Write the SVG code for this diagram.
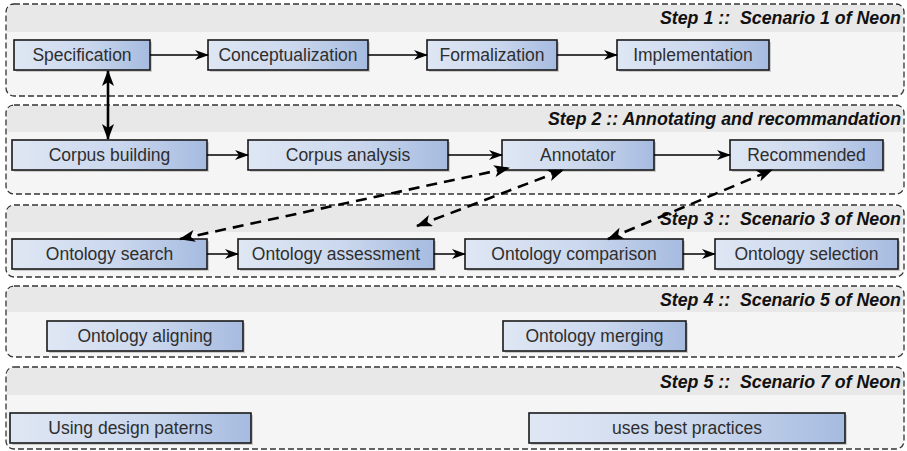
<svg xmlns="http://www.w3.org/2000/svg" width="907" height="451" viewBox="0 0 907 451">
<style>
.lane{fill:#f5f5f5;stroke:#333;stroke-width:1.3;stroke-dasharray:6 3}
.hdr{fill:#e8e8e8}
.title{font-family:"Liberation Sans",Arial,sans-serif;font-size:17.8px;font-weight:bold;font-style:italic;fill:#111;text-anchor:end;white-space:pre}
.box{fill:url(#ng);stroke:#1a1a1a;stroke-width:1.6}
.sh{fill:#9a9a9a;opacity:.45}
.lbl{font-family:"Liberation Sans",Arial,sans-serif;font-size:17.5px;fill:#2e2e2e;text-anchor:middle}
.c{fill:none;stroke:#000;stroke-width:1.5;marker-end:url(#ah)}
.d{fill:none;stroke:#000;stroke-width:2.6;stroke-dasharray:11 7;marker-start:url(#ah2);marker-end:url(#ah2)}
.v{fill:none;stroke:#000;stroke-width:2.6;marker-start:url(#ah2);marker-end:url(#ah2)}
</style>
<defs>
<linearGradient id="ng" x1="0" y1="0" x2="1" y2="0">
<stop offset="0" stop-color="#dfe7f4"/>
<stop offset="0.55" stop-color="#cad7ed"/>
<stop offset="1" stop-color="#a6bbe0"/>
</linearGradient>
<marker id="ah" viewBox="0 0 14 10" refX="13" refY="5" markerWidth="14" markerHeight="10" markerUnits="userSpaceOnUse" orient="auto-start-reverse">
<path d="M0,0 L14,5 L0,10 L4,5 Z" fill="#000"/>
</marker>
<marker id="ah2" viewBox="0 0 16 12" refX="15" refY="6" markerWidth="16" markerHeight="12" markerUnits="userSpaceOnUse" orient="auto-start-reverse">
<path d="M0,0 L16,6 L0,12 L4,6 Z" fill="#000"/>
</marker>
</defs>

<g id="lane1">
<rect class="lane" x="6" y="4" width="898" height="92" rx="8"/>
<path class="hdr" d="M7,32 V12 Q7,5 14,5 H896 Q903,5 903,12 V32 Z"/>
<text class="title" x="901" y="24" xml:space="preserve">Step 1 ::  Scenario 1 of Neon</text>
</g>
<g id="lane2">
<rect class="lane" x="6" y="105" width="898" height="89" rx="8"/>
<path class="hdr" d="M7,132 V113 Q7,106 14,106 H896 Q903,106 903,113 V132 Z"/>
<text class="title" x="901" y="125" xml:space="preserve">Step 2 :: Annotating and recommandation</text>
</g>
<g id="lane3">
<rect class="lane" x="6" y="205" width="898" height="72" rx="8"/>
<path class="hdr" d="M7,232 V213 Q7,206 14,206 H896 Q903,206 903,213 V232 Z"/>
<text class="title" x="901" y="225" xml:space="preserve">Step 3 ::  Scenario 3 of Neon</text>
</g>
<g id="lane4">
<rect class="lane" x="6" y="286" width="898" height="71" rx="8"/>
<path class="hdr" d="M7,312 V294 Q7,287 14,287 H896 Q903,287 903,294 V312 Z"/>
<text class="title" x="901" y="306" xml:space="preserve">Step 4 ::  Scenario 5 of Neon</text>
</g>
<g id="lane5">
<rect class="lane" x="6" y="367" width="898" height="82" rx="8"/>
<path class="hdr" d="M7,395 V375 Q7,368 14,368 H896 Q903,368 903,375 V395 Z"/>
<text class="title" x="901" y="388" xml:space="preserve">Step 5 ::  Scenario 7 of Neon</text>
</g>

<g id="n-specification"><rect class="sh" x="16" y="42" width="136" height="30"/><rect class="box" x="14" y="40" width="136" height="30"/><text class="lbl" x="82" y="61">Specification</text></g>
<g id="n-conceptualization"><rect class="sh" x="210" y="42" width="160" height="30"/><rect class="box" x="208" y="40" width="160" height="30"/><text class="lbl" x="288" y="61">Conceptualization</text></g>
<g id="n-formalization"><rect class="sh" x="429" y="42" width="130" height="30"/><rect class="box" x="427" y="40" width="130" height="30"/><text class="lbl" x="492" y="61">Formalization</text></g>
<g id="n-implementation"><rect class="sh" x="619" y="42" width="152" height="30"/><rect class="box" x="617" y="40" width="152" height="30"/><text class="lbl" x="693" y="61">Implementation</text></g>

<g id="n-corpus-building"><rect class="sh" x="14" y="142" width="195" height="30"/><rect class="box" x="12" y="140" width="195" height="30"/><text class="lbl" x="109.5" y="161">Corpus building</text></g>
<g id="n-corpus-analysis"><rect class="sh" x="250" y="142" width="200" height="30"/><rect class="box" x="248" y="140" width="200" height="30"/><text class="lbl" x="348" y="161">Corpus analysis</text></g>
<g id="n-annotator"><rect class="sh" x="504" y="142" width="152" height="30"/><rect class="box" x="502" y="140" width="152" height="30"/><text class="lbl" x="578" y="161">Annotator</text></g>
<g id="n-recommended"><rect class="sh" x="732" y="142" width="153" height="30"/><rect class="box" x="730" y="140" width="153" height="30"/><text class="lbl" x="806.5" y="161">Recommended</text></g>

<g id="n-ontology-search"><rect class="sh" x="14" y="241" width="195" height="30"/><rect class="box" x="12" y="239" width="195" height="30"/><text class="lbl" x="109.5" y="260">Ontology search</text></g>
<g id="n-ontology-assessment"><rect class="sh" x="240" y="241" width="196" height="30"/><rect class="box" x="238" y="239" width="196" height="30"/><text class="lbl" x="336" y="260">Ontology assessment</text></g>
<g id="n-ontology-comparison"><rect class="sh" x="467" y="241" width="218" height="30"/><rect class="box" x="465" y="239" width="218" height="30"/><text class="lbl" x="574" y="260">Ontology comparison</text></g>
<g id="n-ontology-selection"><rect class="sh" x="717" y="241" width="183" height="30"/><rect class="box" x="715" y="239" width="183" height="30"/><text class="lbl" x="806.5" y="260">Ontology selection</text></g>

<g id="n-ontology-aligning"><rect class="sh" x="49" y="323" width="196" height="30"/><rect class="box" x="47" y="321" width="196" height="30"/><text class="lbl" x="145" y="342">Ontology aligning</text></g>
<g id="n-ontology-merging"><rect class="sh" x="505" y="323" width="183" height="30"/><rect class="box" x="503" y="321" width="183" height="30"/><text class="lbl" x="594.5" y="342">Ontology merging</text></g>

<g id="n-design-patterns"><rect class="sh" x="12" y="415" width="241" height="30"/><rect class="box" x="10" y="413" width="241" height="30"/><text class="lbl" x="130.5" y="434">Using design paterns</text></g>
<g id="n-best-practices"><rect class="sh" x="531" y="415" width="316" height="30"/><rect class="box" x="529" y="413" width="316" height="30"/><text class="lbl" x="687" y="434">uses best practices</text></g>

<g id="connectors">
<line class="c" x1="150" y1="55" x2="208" y2="55"/>
<line class="c" x1="368" y1="55" x2="427" y2="55"/>
<line class="c" x1="557" y1="55" x2="617" y2="55"/>
<line class="v" x1="108" y1="71" x2="108" y2="139"/>
<line class="c" x1="207" y1="155" x2="248" y2="155"/>
<line class="c" x1="448" y1="155" x2="502" y2="155"/>
<line class="c" x1="654" y1="155" x2="730" y2="155"/>
<line class="c" x1="207" y1="254" x2="238" y2="254"/>
<line class="c" x1="434" y1="254" x2="465" y2="254"/>
<line class="c" x1="683" y1="254" x2="715" y2="254"/>
<line class="d" x1="180" y1="239" x2="509" y2="168"/>
<line class="d" x1="417" y1="226" x2="563" y2="170"/>
<line class="d" x1="608" y1="239" x2="772" y2="170"/>
</g>
</svg>
